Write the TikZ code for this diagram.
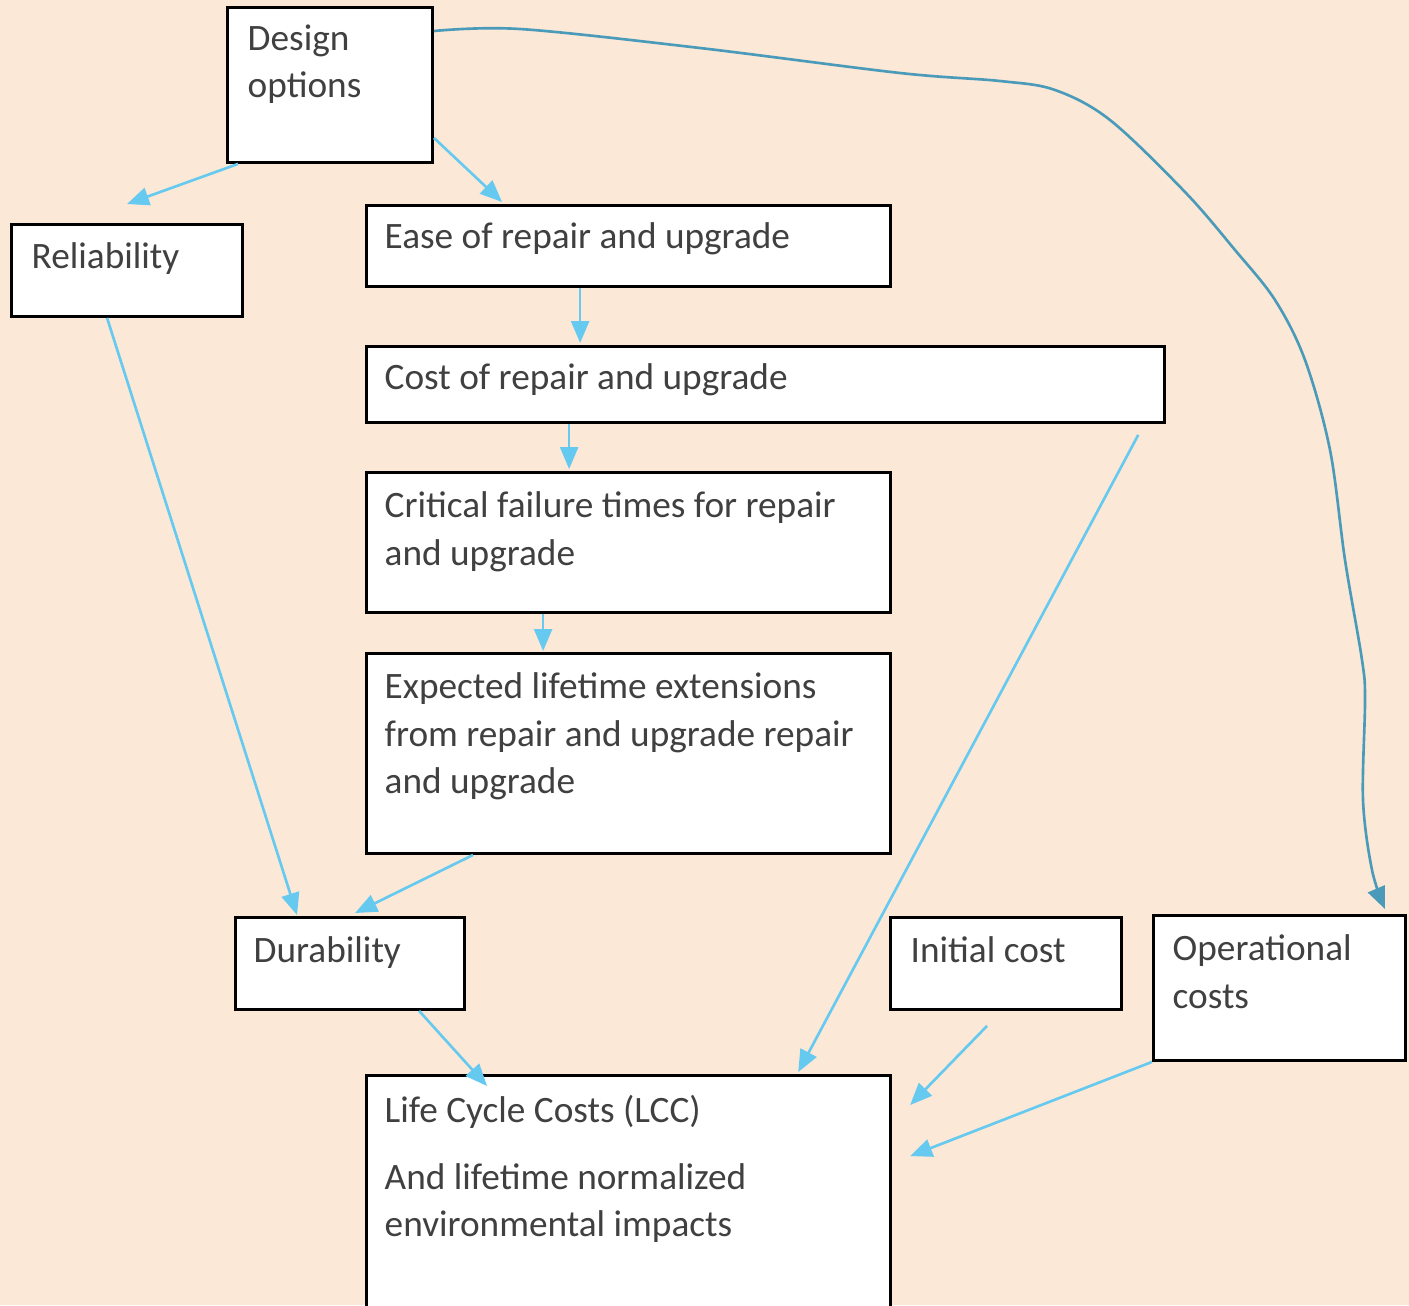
\documentclass[tikz,border=0pt]{standalone}
\usepackage{fontspec}
\setmainfont{Carlito}
\usetikzlibrary{arrows.meta,calc}
\definecolor{PaperClr}{RGB}{251,232,214}
\definecolor{ArrowClr}{RGB}{102,202,240}
\definecolor{CurveClr}{RGB}{74,154,186}
\definecolor{LabelClr}{RGB}{64,64,64}

\begin{document}
\begin{tikzpicture}[x=0.01cm,y=-0.01cm]
\tikzset{box/.style={draw=black,fill=white,line width=0.8pt,anchor=north west,inner sep=0pt},
  boxtext/.style={anchor=north west,align=left,inner sep=0pt,text=LabelClr,
    font=\fontsize{10.6}{13.5}\selectfont,execute at begin node=\strut},
  link/.style={draw=ArrowClr,line width=0.75pt,-{Triangle[length=0.22cm,width=0.18cm]}},
  curve/.style={draw=CurveClr,line width=0.75pt,-{Triangle[length=0.22cm,width=0.18cm]}}}

\fill[PaperClr] (0,0) rectangle (1409,1305);
\useasboundingbox (0,0) rectangle (1409,1305);

% boxes
\node[box,minimum width=2.05cm,minimum height=1.55cm] (des) at (226,6) {};
\node[box,minimum width=2.31cm,minimum height=0.92cm] (rel) at (10,223) {};
\node[box,minimum width=5.24cm,minimum height=0.81cm] (ease) at (365,204) {};
\node[box,minimum width=7.98cm,minimum height=0.76cm] (cost) at (365,345) {};
\node[box,minimum width=5.24cm,minimum height=1.40cm] (crit) at (365,471) {};
\node[box,minimum width=5.24cm,minimum height=2.00cm] (expt) at (365,652) {};
\node[box,minimum width=2.29cm,minimum height=0.92cm] (dur) at (234,916) {};
\node[box,minimum width=2.31cm,minimum height=0.92cm] (init) at (889,916) {};
\node[box,minimum width=2.52cm,minimum height=1.45cm] (oper) at (1152,914) {};
\node[box,minimum width=5.24cm,minimum height=2.32cm] (lcc) at (365,1074) {};

% texts
\node[boxtext] (desT) at ($(des.north west)+(0.21cm,-0.18cm)$) {Design\\options};
\node[boxtext] (relT) at ($(rel.north west)+(0.21cm,-0.12cm)$) {Reliability};
\node[boxtext] (easeT) at ($(ease.north west)+(0.19cm,-0.11cm)$) {Ease of repair and upgrade};
\node[boxtext] (costT) at ($(cost.north west)+(0.19cm,-0.11cm)$) {Cost of repair and upgrade};
\node[boxtext] (critT) at ($(crit.north west)+(0.19cm,-0.20cm)$) {Critical failure times for repair\\and upgrade};
\node[boxtext] (exptT) at ($(expt.north west)+(0.19cm,-0.20cm)$) {Expected lifetime extensions\\from repair and upgrade repair\\and upgrade};
\node[boxtext] (durT) at ($(dur.north west)+(0.19cm,-0.13cm)$) {Durability};
\node[boxtext] (initT) at ($(init.north west)+(0.21cm,-0.13cm)$) {Initial cost};
\node[boxtext] (operT) at ($(oper.north west)+(0.20cm,-0.20cm)$) {Operational\\costs};
\node[boxtext] (lccT) at ($(lcc.north west)+(0.19cm,-0.20cm)$) {Life Cycle Costs (LCC)\\[0.2cm]And lifetime normalized\\environmental impacts};

% arrows
\draw[link] ([xshift=0.12cm]des.south west) -- ([yshift=0.19cm]rel.north);
\draw[link] ([yshift=0.26cm]des.south east) -- ([xshift=1.37cm,yshift=0.02cm]ease.north west);
\draw[link] ([xshift=2.15cm]ease.south west) -- ([xshift=2.15cm,yshift=0.02cm]cost.north west);
\draw[link] ([xshift=2.04cm]cost.south west) -- ([xshift=2.04cm,yshift=0.02cm]crit.north west);
\draw[link] ([xshift=1.78cm]crit.south west) -- ([xshift=1.78cm,yshift=0.01cm]expt.north west);
\draw[link] ([xshift=0.97cm]rel.south west) -- ([xshift=0.63cm,yshift=0.01cm]dur.north west);
\draw[link] ([xshift=1.08cm]expt.south west) -- ([xshift=1.21cm,yshift=0.03cm]dur.north west);
\draw[link] ([xshift=1.85cm]dur.south west) -- ([xshift=1.22cm,yshift=-0.12cm]lcc.north west);
\draw[link] ([xshift=-0.28cm,yshift=-0.11cm]cost.south east) -- ([xshift=4.33cm,yshift=0.02cm]lcc.north west);
\draw[link] ([xshift=0.98cm,yshift=-0.15cm]init.south west) -- ([xshift=0.18cm,yshift=-0.31cm]lcc.north east);
\draw[link] (oper.south west) -- ([xshift=0.18cm,yshift=-0.82cm]lcc.north east);

% long curve to operational costs
\draw[curve] plot[smooth,tension=0.55] coordinates {([yshift=-0.25cm]des.north east) (520,29) (700,48)
  (900,73) (1000,81) (1055,90) (1110,120) (1185,192) (1235,250) (1275,300) (1305,360)
  (1330,450) (1345,560) (1362,660) (1365,700) (1363,800) (1372,870)
  ([xshift=-0.22cm,yshift=0.05cm]oper.north east)};
\end{tikzpicture}
\end{document}
